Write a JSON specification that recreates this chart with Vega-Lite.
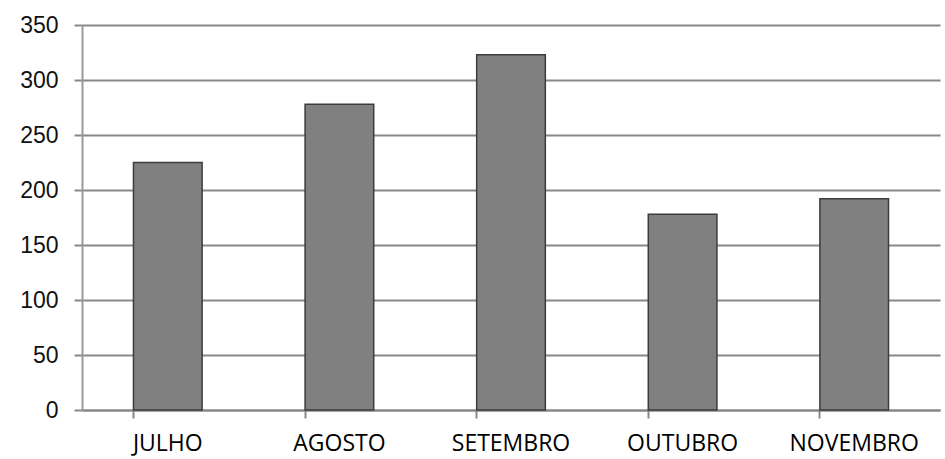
{
  "$schema": "https://vega.github.io/schema/vega-lite/v6.json",
  "autosize": "none",
  "width": 858,
  "height": 385,
  "padding": {"left": 82, "top": 25, "right": 5, "bottom": 49},
  "background": "white",
  "config": {"view": {"stroke": null}},
  "data": {"values": [
    {"mes": "JULHO", "valor": 225},
    {"mes": "AGOSTO", "valor": 278},
    {"mes": "SETEMBRO", "valor": 323},
    {"mes": "OUTUBRO", "valor": 178},
    {"mes": "NOVEMBRO", "valor": 192}
  ]},
  "mark": {"type": "bar", "fill": "#808080", "stroke": "#3c3c3c", "strokeWidth": 1.5},
  "encoding": {
    "x": {
      "field": "mes", "type": "nominal", "sort": null,
      "scale": {"paddingInner": 0.6, "paddingOuter": 0.3},
      "axis": {
        "title": null, "labelAngle": 0, "bandPosition": 0,
        "domainColor": "#888888", "domainWidth": 2,
        "tickColor": "#888888", "tickWidth": 2, "tickSize": 8,
        "labelFont": "Open Sans", "labelFontSize": 23, "labelColor": "#000000",
        "labelPadding": 14, "grid": false
      }
    },
    "y": {
      "field": "valor", "type": "quantitative",
      "scale": {"domain": [0, 350], "nice": false},
      "axis": {
        "title": null, "values": [0, 50, 100, 150, 200, 250, 300, 350],
        "grid": true, "gridColor": "#888888", "gridWidth": 2, "gridOpacity": 1,
        "domainColor": "#999999", "domainWidth": 2,
        "tickColor": "#888888", "tickWidth": 2, "tickSize": 8,
        "labelFont": "Liberation Sans", "labelFontSize": 23, "labelColor": "#111111",
        "labelPadding": 16
      }
    }
  }
}
